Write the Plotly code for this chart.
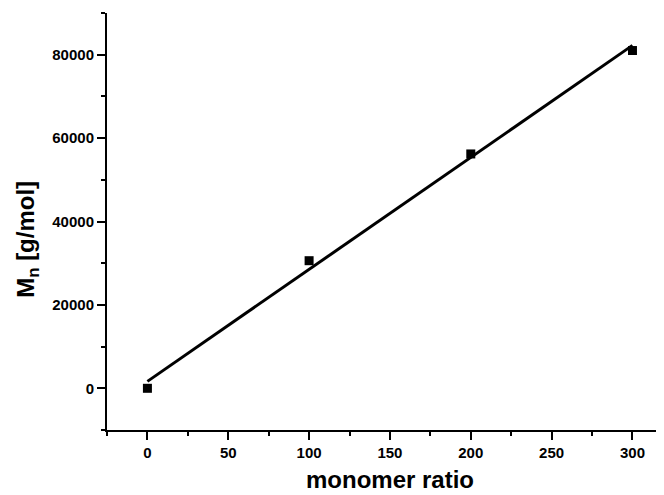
import numpy as np
import plotly.graph_objects as go

# Data
monomer_ratio = [0, 100, 200, 300]
mn_values = [0, 30600, 56200, 81000]

# Linear fit through the data (as drawn in the reference)
slope, intercept = np.polyfit(monomer_ratio, mn_values, 1)
fit_x = [min(monomer_ratio), max(monomer_ratio)]
fit_y = [slope * x + intercept for x in fit_x]

x_ticks = [0, 50, 100, 150, 200, 250, 300]
y_ticks = [0, 20000, 40000, 60000, 80000]

fig = go.Figure()
fig.add_trace(go.Scatter(x=fit_x, y=fit_y, mode="lines",
                         line=dict(color="black", width=3), showlegend=False))
fig.add_trace(go.Scatter(x=monomer_ratio, y=mn_values, mode="markers",
                         marker=dict(symbol="square", size=9, color="black"),
                         showlegend=False))

tickfont = dict(family="Liberation Sans, Arial", size=15, color="black", weight="bold")
fig.update_layout(
    width=656, height=487,
    margin=dict(l=99, r=0, t=5, b=65),
    plot_bgcolor="white", paper_bgcolor="white",
    xaxis=dict(range=[-25, 319.5], tickvals=x_ticks, ticktext=[str(v) for v in x_ticks],
               showline=True, linecolor="black", linewidth=2, showgrid=False, zeroline=False,
               ticks="outside", ticklen=8, tickwidth=2, tickcolor="black", tickfont=tickfont,
               minor=dict(tickvals=[-25, 25, 75, 125, 175, 225, 275], ticks="outside",
                          ticklen=4, tickwidth=2, tickcolor="black")),
    yaxis=dict(range=[-10000, 90000], tickvals=y_ticks, ticktext=[str(v) for v in y_ticks],
               showline=True, linecolor="black", linewidth=2, showgrid=False, zeroline=False,
               ticks="outside", ticklen=8, tickwidth=2, tickcolor="black", tickfont=tickfont,
               minor=dict(tickvals=[-10000, 10000, 30000, 50000, 70000, 90000], ticks="outside",
                          ticklen=4, tickwidth=2, tickcolor="black")),
    annotations=[
        dict(text="monomer ratio", xref="paper", yref="paper", x=0.508, y=-0.118,
             xanchor="center", yanchor="middle", showarrow=False,
             font=dict(family="Liberation Sans, Arial", size=24, color="black", weight="bold")),
        dict(text="M<sub>n</sub> [g/mol]", xref="paper", yref="paper", x=-0.144, y=0.458,
             xanchor="center", yanchor="middle", showarrow=False, textangle=-90,
             font=dict(family="Liberation Sans, Arial", size=24, color="black", weight="bold")),
    ],
)

fig.write_html("out.html")
